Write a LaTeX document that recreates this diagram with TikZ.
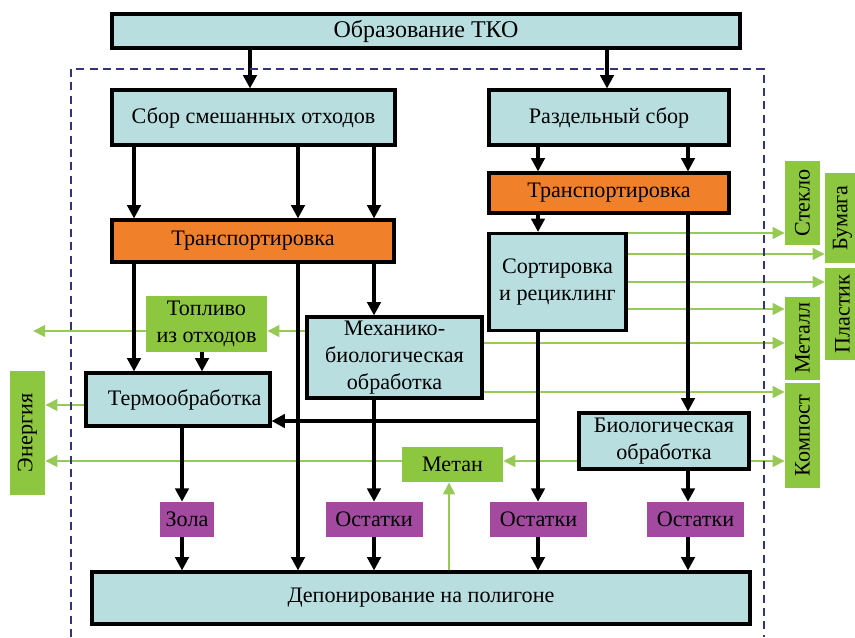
\documentclass[tikz,border=0pt]{standalone}
\usepackage{fontspec}
\setmainfont{Liberation Serif}
\usetikzlibrary{arrows.meta}

\definecolor{BoxBlue}{RGB}{184,222,224}
\definecolor{TransOrange}{RGB}{241,128,42}
\definecolor{OutGreen}{RGB}{141,198,63}
\definecolor{ProdGreen}{RGB}{150,201,85}
\definecolor{RestPurple}{RGB}{163,74,160}
\definecolor{FrameBlue}{RGB}{52,52,120}

\begin{document}
\begin{tikzpicture}[
        %Environment config
        x=0.75pt, y=-0.75pt,
        font=\fontsize{16.6}{20}\selectfont,
        %Environment styles
        Sz/.style 2 args={minimum width=#1*0.75pt, minimum height=#2*0.75pt},
        BoxCfg/.style={draw, line width=2.3pt, fill=BoxBlue, inner sep=0pt, align=center},
        TransCfg/.style={BoxCfg, fill=TransOrange},
        OutCfg/.style={fill=OutGreen, inner sep=0pt, align=center},
        SideCfg/.style={OutCfg, rotate=90},
        RestCfg/.style={fill=RestPurple, inner sep=0pt},
        Flow/.style={line width=2.5pt, -{Triangle[length=10pt,width=10pt]}},
        Prod/.style={draw=ProdGreen, line width=2.1pt, -{Triangle[length=9pt,width=8.5pt]}},
        Frame/.style={draw=FrameBlue, line width=1.5pt, dash pattern=on 6pt off 4pt}
    ]
    \useasboundingbox (0,0) rectangle (855,637);

    % columns and rows of the connectors
    \coordinate (cTa) at (250,0);
    \coordinate (cTb) at (607,0);
    \coordinate (cA) at (134,0);
    \coordinate (cB) at (298,0);
    \coordinate (cC) at (374,0);
    \coordinate (cD) at (538,0);
    \coordinate (cE) at (688,0);
    \coordinate (cF) at (202,0);
    \coordinate (cG) at (182,0);
    \coordinate (cH) at (449,0);
    \coordinate (rSt) at (0,233);
    \coordinate (rBu) at (0,254);
    \coordinate (rPl) at (0,282);
    \coordinate (rMe) at (0,309);
    \coordinate (rMb) at (0,343);
    \coordinate (rKo) at (0,392);
    \coordinate (rTp) at (0,331);
    \coordinate (rTh) at (0,405);
    \coordinate (rBk) at (0,421);
    \coordinate (rMt) at (0,461);
    \coordinate (fuelOut) at (33,331);

    \path
        (426,31) node[BoxCfg,Sz={628}{34},font=\fontsize{18}{20}\selectfont](TKO){Образование ТКО}
        (253.5,117.5) node[BoxCfg,Sz={283}{55}](Sbor){Сбор смешанных отходов}
        (609,117.5) node[BoxCfg,Sz={240}{55}](Razd){Раздельный сбор}
        (253,241) node[TransCfg,Sz={282}{42}](TransA){Транспортировка}
        (609,193) node[TransCfg,Sz={240}{40}](TransB){Транспортировка}
        (557.5,282) node[BoxCfg,Sz={137}{97}](Sort){Сортировка\\и рециклинг}
        (394.5,357.5) node[BoxCfg,Sz={175}{81}](Mech){Механико-\\биологическая\\обработка}
        (664,441) node[BoxCfg,Sz={170}{56}](Bio){Биологическая\\обработка}
        (206.5,324) node[OutCfg,Sz={121}{56}](Topl){Топливо\\из отходов}
        (178,399.5) node[BoxCfg,Sz={184}{53}](Thermo){\hspace*{10pt}Термообработка}
        (452.5,464.5) node[OutCfg,Sz={101}{35}](Metan){Метан}
        (421,598) node[BoxCfg,Sz={658}{52}](Dep){Депонирование на полигоне}
        (187,519.5) node[RestCfg,Sz={54}{35}](Zola){Зола}
        (374,519.5) node[RestCfg,Sz={97}{35}](OstA){Остатки}
        (538.5,519.5) node[RestCfg,Sz={97}{35}](OstB){Остатки}
        (695.5,519.5) node[RestCfg,Sz={97}{35}](OstC){Остатки}
        (27.5,433) node[SideCfg,Sz={124}{35}](Energy){Энергия}
        (802.5,203) node[SideCfg,Sz={84}{35}](Steklo){Стекло}
        (842.5,218) node[SideCfg,Sz={90}{35}](Bumaga){Бумага}
        (842.5,314) node[SideCfg,Sz={92}{35}](Plastik){Пластик}
        (802.5,338) node[SideCfg,Sz={83}{35}](Metall){Металл}
        (802.5,435.5) node[SideCfg,Sz={105}{35}](Kompost){Компост};

    % products
    \draw[Prod] (Sort.east |- rSt) -- (Steklo.north |- rSt);
    \draw[Prod] (Sort.east |- rBu) -- (Bumaga.north |- rBu);
    \draw[Prod] (Sort.east |- rPl) -- (Plastik.north |- rPl);
    \draw[Prod] (Sort.east |- rMe) -- (Metall.north |- rMe);
    \draw[Prod] (Mech.east |- rMb) -- (Metall.north |- rMb);
    \draw[Prod] (Mech.east |- rKo) -- (Kompost.north |- rKo);
    \draw[Prod] (Mech.west |- rTp) -- (Topl.east |- rTp);
    \draw[Prod] (Topl.west |- rTp) -- (fuelOut);
    \draw[Prod] (Thermo.west |- rTh) -- (Energy.south |- rTh);
    \draw[Prod] (Bio.west |- rMt) -- (Metan.east |- rMt);
    \draw[Prod] (Bio.east |- rMt) -- (Kompost.north |- rMt);
    \draw[Prod] (Metan.west |- rMt) -- (Energy.south |- rMt);
    \draw[Prod] (Dep.north -| cH) -- (Metan.south -| cH);

    % waste flows
    \draw[Flow] (TKO.south -| cTa) -- (Sbor.north -| cTa);
    \draw[Flow] (TKO.south -| cTb) -- (Razd.north -| cTb);
    \draw[Flow] (Sbor.south -| cA) -- (TransA.north -| cA);
    \draw[Flow] (Sbor.south -| cB) -- (TransA.north -| cB);
    \draw[Flow] (Sbor.south -| cC) -- (TransA.north -| cC);
    \draw[Flow] (Razd.south -| cD) -- (TransB.north -| cD);
    \draw[Flow] (Razd.south -| cE) -- (TransB.north -| cE);
    \draw[Flow] (TransB.south -| cD) -- (Sort.north -| cD);
    \draw[Flow] (TransB.south -| cE) -- (Bio.north -| cE);
    \draw[Flow] (TransA.south -| cA) -- (Thermo.north -| cA);
    \draw[Flow] (TransA.south -| cB) -- (Dep.north -| cB);
    \draw[Flow] (TransA.south -| cC) -- (Mech.north -| cC);
    \draw[Flow] (Topl.south -| cF) -- (Thermo.north -| cF);
    \draw[Flow] (Thermo.south -| cG) -- (Zola.north -| cG);
    \draw[Flow] (Zola.south -| cG) -- (Dep.north -| cG);
    \draw[Flow] (Mech.south -| cC) -- (OstA.north -| cC);
    \draw[Flow] (OstA.south -| cC) -- (Dep.north -| cC);
    \draw[Flow] (Sort.south -| cD) -- (OstB.north -| cD);
    \draw[Flow] (cD |- rBk) -- (Thermo.east |- rBk);
    \draw[Flow] (OstB.south -| cD) -- (Dep.north -| cD);
    \draw[Flow] (Bio.south -| cE) -- (OstC.north -| cE);
    \draw[Flow] (OstC.south -| cE) -- (Dep.north -| cE);

    % boundary
    \draw[Frame] (71,637) |- (764,69) -- (764,637);
\end{tikzpicture}
\end{document}
